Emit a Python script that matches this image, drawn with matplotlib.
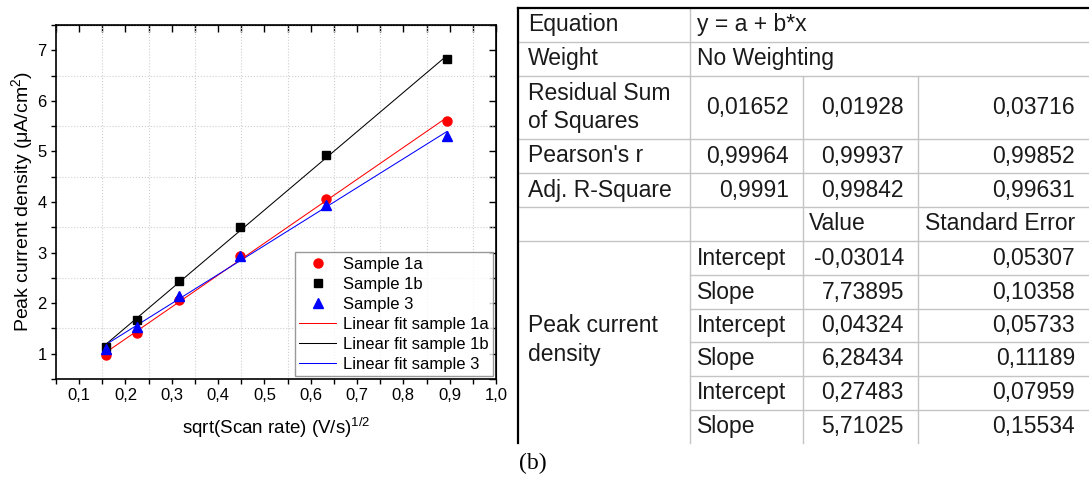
import numpy as np
import matplotlib
matplotlib.use('Agg')
import matplotlib.pyplot as plt
from matplotlib.ticker import MultipleLocator

plt.rcParams['font.family'] = ['Liberation Sans', 'DejaVu Sans']
plt.rcParams['mathtext.fontset'] = 'custom'
plt.rcParams['mathtext.rm'] = 'Liberation Sans'
plt.rcParams['mathtext.it'] = 'Liberation Sans:italic'

# sqrt(scan rate) values, same for all samples
sqrt_rate = [0.158, 0.224, 0.316, 0.447, 0.632, 0.894]
peak_1a = [0.97, 1.41, 2.06, 2.93, 4.06, 5.61]
peak_1b = [1.14, 1.67, 2.43, 3.50, 4.92, 6.83]
peak_3 = [1.09, 1.52, 2.15, 2.93, 3.95, 5.31]

x_ticks = [0.1, 0.2, 0.3, 0.4, 0.5, 0.6, 0.7, 0.8, 0.9, 1.0]
x_tick_labels = ['0,1', '0,2', '0,3', '0,4', '0,5', '0,6', '0,7', '0,8', '0,9', '1,0']
y_ticks = [1, 2, 3, 4, 5, 6, 7]

# fit table
equation = 'y = a + b*x'
weight = 'No Weighting'
stat_names = ['Residual Sum\nof Squares', "Pearson's r", 'Adj. R-Square']
rss = ['0,01652', '0,01928', '0,03716']
pearson_r = ['0,99964', '0,99937', '0,99852']
adj_r2 = ['0,9991', '0,99842', '0,99631']
param_names = ['Intercept', 'Slope', 'Intercept', 'Slope', 'Intercept', 'Slope']
param_values = ['-0,03014', '7,73895', '0,04324', '6,28434', '0,27483', '5,71025']
param_errors = ['0,05307', '0,10358', '0,05733', '0,11189', '0,07959', '0,15534']

W, H = 1089, 484
fig = plt.figure(figsize=(W / 100, H / 100), dpi=100)

# ---- left: scatter + linear fits ----
ax = fig.add_axes([56 / W, 1 - 379 / H, 440 / W, 354 / H])

series = [
    ('Sample 1a', peak_1a, 'o', 6.5, '#ff0000'),
    ('Sample 1b', peak_1b, 's', 6.0, '#000000'),
    ('Sample 3', peak_3, '^', 7.0, '#0000ff'),
]
x = np.array(sqrt_rate)
for name, y, mk, ms, col in series:
    ax.plot(x, y, linestyle='none', marker=mk, ms=ms, color=col, label=name, zorder=3)
for name, y, mk, ms, col in series:
    b, a = np.polyfit(x, y, 1)
    xs = np.array([x[0], x[-1]])
    ax.plot(xs, a + b * xs, color=col, lw=0.75,
            label='Linear fit s' + name[1:], zorder=2)

ax.set_xlim(0.05, 1.0)
ax.set_ylim(0.5, 7.5)
ax.set_xticks(x_ticks)
ax.set_xticklabels(x_tick_labels)
ax.set_yticks(y_ticks)
ax.xaxis.set_minor_locator(MultipleLocator(0.05))
ax.yaxis.set_minor_locator(MultipleLocator(0.5))
ax.tick_params(which='both', direction='out', length=3.3, width=1.0,
               labelsize=12, pad=3.5)
ax.grid(which='minor', linestyle=':', color='#cfcfcf', lw=0.8)
for sp in ax.spines.values():
    sp.set_linewidth(1.2)

top = ax.secondary_xaxis('top')
top.xaxis.set_major_locator(MultipleLocator(0.05))
top.tick_params(direction='in', length=5, width=1.0, labeltop=False)
right = ax.secondary_yaxis('right')
right.yaxis.set_major_locator(MultipleLocator(0.5))
right.tick_params(direction='in', length=5, width=1.0, labelright=False)

ax.set_xlabel('sqrt(Scan rate) (V/s)$^{\\mathregular{1/2}}$', fontsize=13.5)
ax.set_ylabel('Peak current density (\u03bcA/cm$^{\\mathregular{2}}$)', fontsize=14)
ax.xaxis.set_label_coords(0.5, -0.105)
ax.yaxis.set_label_coords(-0.048, 0.5)

leg = ax.legend(loc='lower right', fontsize=12, frameon=True, fancybox=False,
                borderaxespad=0.2, borderpad=0.25, labelspacing=0.3,
                handlelength=2.2, handletextpad=0.4, numpoints=1)
leg.get_frame().set_edgecolor('#808080')
leg.get_frame().set_linewidth(1.0)

# ---- right: fit parameter table ----
tax = fig.add_axes([0, 0, 1, 1])
tax.set_xlim(0, W)
tax.set_ylim(H, 0)
tax.axis('off')

cols = [518, 690, 803, 918, W]
rows = [8, 42, 76, 139, 173, 207, 241, 275, 309, 342, 376, 410, 443]
grey = '#c4c4c4'
fs = 16.5

for yy in rows[1:7]:
    tax.plot([cols[0], W], [yy, yy], color=grey, lw=1.0)
for yy in rows[7:12]:
    tax.plot([cols[1], W], [yy, yy], color=grey, lw=1.0)
tax.plot([cols[1], cols[1]], [rows[0], rows[-1]], color=grey, lw=1.0)
for cx in cols[2:4]:
    tax.plot([cx, cx], [rows[2], rows[-1]], color=grey, lw=1.0)
tax.plot([cols[0], W], [rows[0], rows[0]], color='black', lw=1.6)
tax.plot([cols[0], cols[0]], [rows[0], rows[-1]], color='black', lw=1.6)


def mid(i):
    return (rows[i] + rows[i + 1]) / 2


def left_text(col, yy, s, pad=8):
    tax.text(cols[col] + pad, yy, s, fontsize=fs, ha='left', va='center',
             color='#1a1a1a', linespacing=1.32)


def right_text(col, yy, s, pad=14):
    tax.text(cols[col + 1] - pad, yy, s, fontsize=fs, ha='right', va='center',
             color='#1a1a1a')


left_text(0, mid(0), 'Equation', 10)
left_text(1, mid(0), equation, 7)
left_text(0, mid(1), 'Weight', 10)
left_text(1, mid(1), weight, 7)
for i, (name, vals) in enumerate(zip(stat_names, [rss, pearson_r, adj_r2])):
    r = i + 2
    left_text(0, mid(r), name, 10)
    for c, v in enumerate(vals):
        right_text(c + 1, mid(r), v)
left_text(2, mid(5), 'Value', 6)
left_text(3, mid(5), 'Standard Error', 7)
left_text(0, (rows[6] + rows[12]) / 2 - 2, 'Peak current\ndensity', 10)
for i in range(len(param_names)):
    r = i + 6
    left_text(1, mid(r), param_names[i], 7)
    right_text(2, mid(r), param_values[i])
    right_text(3, mid(r), param_errors[i])

tax.text(519, 463, '(b)', fontsize=17, family='Liberation Serif',
         ha='left', va='center')

fig.savefig('out.png', dpi=100)
